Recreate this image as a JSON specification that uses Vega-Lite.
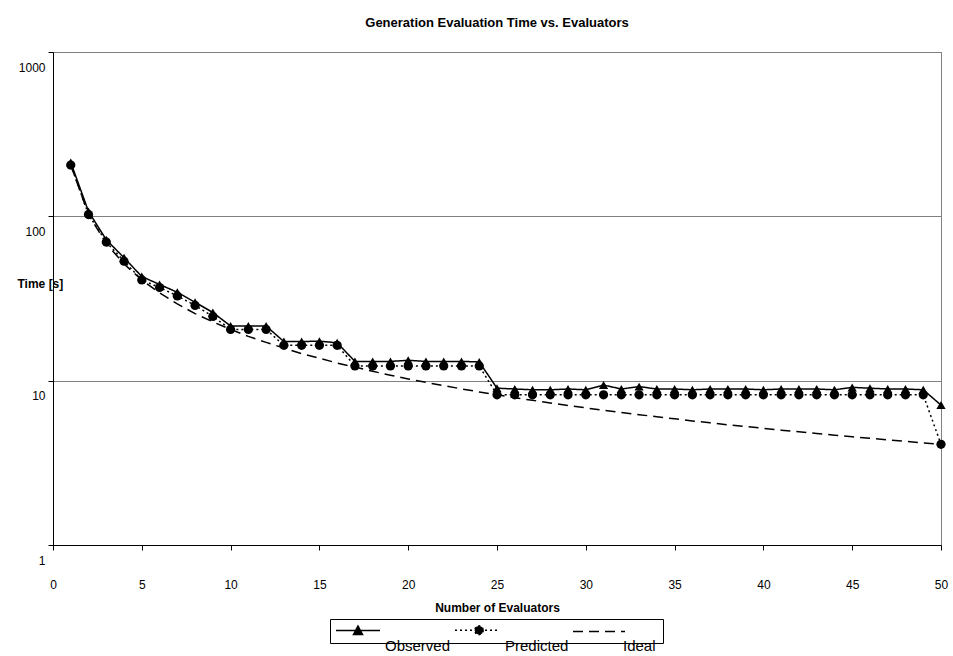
{
  "$schema": "https://vega.github.io/schema/vega-lite/v6.json",
  "width": 888,
  "height": 493,
  "autosize": {"type": "none"},
  "padding": {"left": 53, "top": 52, "right": 12, "bottom": 111},
  "background": "white",
  "config": {
    "font": "Liberation Sans",
    "view": {"stroke": "#808080", "strokeWidth": 1}
  },
  "title": {
    "text": "Generation Evaluation Time vs. Evaluators",
    "fontSize": 13,
    "fontWeight": "bold",
    "color": "black",
    "anchor": "middle",
    "baseline": "bottom",
    "offset": 9
  },
  "data": {
    "values": [
      {"n": 1, "series": "Observed", "t": 213}, {"n": 2, "series": "Observed", "t": 107}, {"n": 3, "series": "Observed", "t": 72},
      {"n": 4, "series": "Observed", "t": 56}, {"n": 5, "series": "Observed", "t": 43}, {"n": 6, "series": "Observed", "t": 38.5},
      {"n": 7, "series": "Observed", "t": 34.5}, {"n": 8, "series": "Observed", "t": 30}, {"n": 9, "series": "Observed", "t": 26},
      {"n": 10, "series": "Observed", "t": 21.5}, {"n": 11, "series": "Observed", "t": 21.5}, {"n": 12, "series": "Observed", "t": 21.5},
      {"n": 13, "series": "Observed", "t": 17.3}, {"n": 14, "series": "Observed", "t": 17.3}, {"n": 15, "series": "Observed", "t": 17.4},
      {"n": 16, "series": "Observed", "t": 17.0}, {"n": 17, "series": "Observed", "t": 13.1}, {"n": 18, "series": "Observed", "t": 13.1},
      {"n": 19, "series": "Observed", "t": 13.1}, {"n": 20, "series": "Observed", "t": 13.3}, {"n": 21, "series": "Observed", "t": 13.1},
      {"n": 22, "series": "Observed", "t": 13.1}, {"n": 23, "series": "Observed", "t": 13.1}, {"n": 24, "series": "Observed", "t": 13.0},
      {"n": 25, "series": "Observed", "t": 9.0}, {"n": 26, "series": "Observed", "t": 8.9}, {"n": 27, "series": "Observed", "t": 8.8},
      {"n": 28, "series": "Observed", "t": 8.8}, {"n": 29, "series": "Observed", "t": 8.9}, {"n": 30, "series": "Observed", "t": 8.8},
      {"n": 31, "series": "Observed", "t": 9.4}, {"n": 32, "series": "Observed", "t": 8.9}, {"n": 33, "series": "Observed", "t": 9.2},
      {"n": 34, "series": "Observed", "t": 8.9}, {"n": 35, "series": "Observed", "t": 8.9}, {"n": 36, "series": "Observed", "t": 8.8},
      {"n": 37, "series": "Observed", "t": 8.9}, {"n": 38, "series": "Observed", "t": 8.9}, {"n": 39, "series": "Observed", "t": 8.9},
      {"n": 40, "series": "Observed", "t": 8.8}, {"n": 41, "series": "Observed", "t": 8.9}, {"n": 42, "series": "Observed", "t": 8.9},
      {"n": 43, "series": "Observed", "t": 8.9}, {"n": 44, "series": "Observed", "t": 8.8}, {"n": 45, "series": "Observed", "t": 9.1},
      {"n": 46, "series": "Observed", "t": 9.0}, {"n": 47, "series": "Observed", "t": 8.9}, {"n": 48, "series": "Observed", "t": 8.9},
      {"n": 49, "series": "Observed", "t": 8.8}, {"n": 50, "series": "Observed", "t": 7.1},

      {"n": 1, "series": "Predicted", "t": 205}, {"n": 2, "series": "Predicted", "t": 102.5}, {"n": 3, "series": "Predicted", "t": 69.7},
      {"n": 4, "series": "Predicted", "t": 53.3}, {"n": 5, "series": "Predicted", "t": 41}, {"n": 6, "series": "Predicted", "t": 36.9},
      {"n": 7, "series": "Predicted", "t": 32.8}, {"n": 8, "series": "Predicted", "t": 28.7}, {"n": 9, "series": "Predicted", "t": 24.6},
      {"n": 10, "series": "Predicted", "t": 20.5}, {"n": 11, "series": "Predicted", "t": 20.5}, {"n": 12, "series": "Predicted", "t": 20.5},
      {"n": 13, "series": "Predicted", "t": 16.4}, {"n": 14, "series": "Predicted", "t": 16.4}, {"n": 15, "series": "Predicted", "t": 16.4},
      {"n": 16, "series": "Predicted", "t": 16.4}, {"n": 17, "series": "Predicted", "t": 12.3}, {"n": 18, "series": "Predicted", "t": 12.3},
      {"n": 19, "series": "Predicted", "t": 12.3}, {"n": 20, "series": "Predicted", "t": 12.3}, {"n": 21, "series": "Predicted", "t": 12.3},
      {"n": 22, "series": "Predicted", "t": 12.3}, {"n": 23, "series": "Predicted", "t": 12.3}, {"n": 24, "series": "Predicted", "t": 12.3},
      {"n": 25, "series": "Predicted", "t": 8.2}, {"n": 26, "series": "Predicted", "t": 8.2}, {"n": 27, "series": "Predicted", "t": 8.2},
      {"n": 28, "series": "Predicted", "t": 8.2}, {"n": 29, "series": "Predicted", "t": 8.2}, {"n": 30, "series": "Predicted", "t": 8.2},
      {"n": 31, "series": "Predicted", "t": 8.2}, {"n": 32, "series": "Predicted", "t": 8.2}, {"n": 33, "series": "Predicted", "t": 8.2},
      {"n": 34, "series": "Predicted", "t": 8.2}, {"n": 35, "series": "Predicted", "t": 8.2}, {"n": 36, "series": "Predicted", "t": 8.2},
      {"n": 37, "series": "Predicted", "t": 8.2}, {"n": 38, "series": "Predicted", "t": 8.2}, {"n": 39, "series": "Predicted", "t": 8.2},
      {"n": 40, "series": "Predicted", "t": 8.2}, {"n": 41, "series": "Predicted", "t": 8.2}, {"n": 42, "series": "Predicted", "t": 8.2},
      {"n": 43, "series": "Predicted", "t": 8.2}, {"n": 44, "series": "Predicted", "t": 8.2}, {"n": 45, "series": "Predicted", "t": 8.2},
      {"n": 46, "series": "Predicted", "t": 8.2}, {"n": 47, "series": "Predicted", "t": 8.2}, {"n": 48, "series": "Predicted", "t": 8.2},
      {"n": 49, "series": "Predicted", "t": 8.2}, {"n": 50, "series": "Predicted", "t": 4.1},

      {"n": 1, "series": "Ideal", "t": 205}, {"n": 2, "series": "Ideal", "t": 102.5}, {"n": 3, "series": "Ideal", "t": 68.3},
      {"n": 4, "series": "Ideal", "t": 51.3}, {"n": 5, "series": "Ideal", "t": 41}, {"n": 6, "series": "Ideal", "t": 34.2},
      {"n": 7, "series": "Ideal", "t": 29.3}, {"n": 8, "series": "Ideal", "t": 25.6}, {"n": 9, "series": "Ideal", "t": 22.8},
      {"n": 10, "series": "Ideal", "t": 20.5}, {"n": 11, "series": "Ideal", "t": 18.6}, {"n": 12, "series": "Ideal", "t": 17.1},
      {"n": 13, "series": "Ideal", "t": 15.8}, {"n": 14, "series": "Ideal", "t": 14.6}, {"n": 15, "series": "Ideal", "t": 13.7},
      {"n": 16, "series": "Ideal", "t": 12.8}, {"n": 17, "series": "Ideal", "t": 12.1}, {"n": 18, "series": "Ideal", "t": 11.4},
      {"n": 19, "series": "Ideal", "t": 10.8}, {"n": 20, "series": "Ideal", "t": 10.25}, {"n": 21, "series": "Ideal", "t": 9.76},
      {"n": 22, "series": "Ideal", "t": 9.32}, {"n": 23, "series": "Ideal", "t": 8.91}, {"n": 24, "series": "Ideal", "t": 8.54},
      {"n": 25, "series": "Ideal", "t": 8.2}, {"n": 26, "series": "Ideal", "t": 7.88}, {"n": 27, "series": "Ideal", "t": 7.59},
      {"n": 28, "series": "Ideal", "t": 7.32}, {"n": 29, "series": "Ideal", "t": 7.07}, {"n": 30, "series": "Ideal", "t": 6.83},
      {"n": 31, "series": "Ideal", "t": 6.61}, {"n": 32, "series": "Ideal", "t": 6.41}, {"n": 33, "series": "Ideal", "t": 6.21},
      {"n": 34, "series": "Ideal", "t": 6.03}, {"n": 35, "series": "Ideal", "t": 5.86}, {"n": 36, "series": "Ideal", "t": 5.69},
      {"n": 37, "series": "Ideal", "t": 5.54}, {"n": 38, "series": "Ideal", "t": 5.39}, {"n": 39, "series": "Ideal", "t": 5.26},
      {"n": 40, "series": "Ideal", "t": 5.13}, {"n": 41, "series": "Ideal", "t": 5.0}, {"n": 42, "series": "Ideal", "t": 4.88},
      {"n": 43, "series": "Ideal", "t": 4.77}, {"n": 44, "series": "Ideal", "t": 4.66}, {"n": 45, "series": "Ideal", "t": 4.56},
      {"n": 46, "series": "Ideal", "t": 4.46}, {"n": 47, "series": "Ideal", "t": 4.36}, {"n": 48, "series": "Ideal", "t": 4.27},
      {"n": 49, "series": "Ideal", "t": 4.18}, {"n": 50, "series": "Ideal", "t": 4.1}
    ]
  },
  "encoding": {
    "x": {
      "field": "n",
      "type": "quantitative",
      "scale": {"domain": [0, 50], "nice": false, "zero": false},
      "axis": {
        "values": [0, 5, 10, 15, 20, 25, 30, 35, 40, 45, 50],
        "grid": false,
        "labelFontSize": 12,
        "labelColor": "black",
        "labelFlush": false,
        "labelPadding": 29,
        "tickSize": 5,
        "tickColor": "black",
        "domainColor": "black",
        "title": "Number of Evaluators",
        "titleFontSize": 12,
        "titleFontWeight": "bold",
        "titleColor": "black",
        "titleBaseline": "middle",
        "titleY": 62
      }
    },
    "y": {
      "field": "t",
      "type": "quantitative",
      "scale": {"type": "log", "domain": [1, 1000], "nice": false},
      "axis": {
        "values": [1, 10, 100, 1000],
        "format": "d",
        "grid": true,
        "gridColor": "#808080",
        "gridWidth": 1,
        "labelFontSize": 12,
        "labelColor": "black",
        "labelFlush": false,
        "labelOffset": 15,
        "labelPadding": 3,
        "tickSize": 5,
        "tickColor": "black",
        "domainColor": "black",
        "title": "Time [s]",
        "titleAngle": 0,
        "titleAlign": "left",
        "titleBaseline": "middle",
        "titleX": -36,
        "titleY": 231,
        "titleFontSize": 12,
        "titleFontWeight": "bold",
        "titleColor": "black"
      }
    }
  },
  "layer": [
    {
      "mark": {"type": "line", "color": "black", "strokeWidth": 1.5},
      "encoding": {
        "strokeDash": {
          "field": "series",
          "type": "nominal",
          "sort": ["Observed", "Predicted", "Ideal"],
          "scale": {"range": [[1, 0], [2, 3], [10, 6]]},
          "legend": {
            "orient": "none",
            "legendX": 277,
            "legendY": 567,
            "direction": "horizontal",
            "title": null,
            "padding": 5,
            "strokeColor": "black",
            "fillColor": "white",
            "symbolSize": 100,
            "symbolStrokeWidth": 1.5,
            "symbolStrokeColor": "black",
            "symbolFillColor": "black",
            "symbolType": {"expr": "datum.value === 'Observed' ? 'M-1,0L7.8,0M2.5,0.8L3.4,-0.9L4.3,0.8Z' : datum.value === 'Predicted' ? 'M-1,0L7.6,0M4.7,0L4.436,0.636L3.8,0.9L3.164,0.636L2.9,0L3.164,-0.636L3.8,-0.9L4.436,-0.636Z' : 'M-1,0L9.4,0M15.4,0'"},
            "labelExpr": "''",
            "labelOffset": 0,
            "columnPadding": 69
          }
        }
      }
    },
    {
      "transform": [{"filter": "datum.series != 'Ideal'"}],
      "mark": {"type": "point", "filled": true, "color": "black", "size": 85, "opacity": 1},
      "encoding": {
        "shape": {
          "field": "series",
          "type": "nominal",
          "scale": {"domain": ["Observed", "Predicted", "Ideal"], "range": ["triangle-up", "circle", "circle"]},
          "legend": {
            "orient": "none",
            "legendX": 317,
            "legendY": 586,
            "direction": "horizontal",
            "title": null,
            "padding": 0,
            "symbolOpacity": 0,
            "symbolSize": 4,
            "labelOffset": 0,
            "labelFontSize": 15,
            "labelColor": "black",
            "labelBaseline": "middle",
            "columnPadding": 39
          }
        }
      }
    }
  ]
}
